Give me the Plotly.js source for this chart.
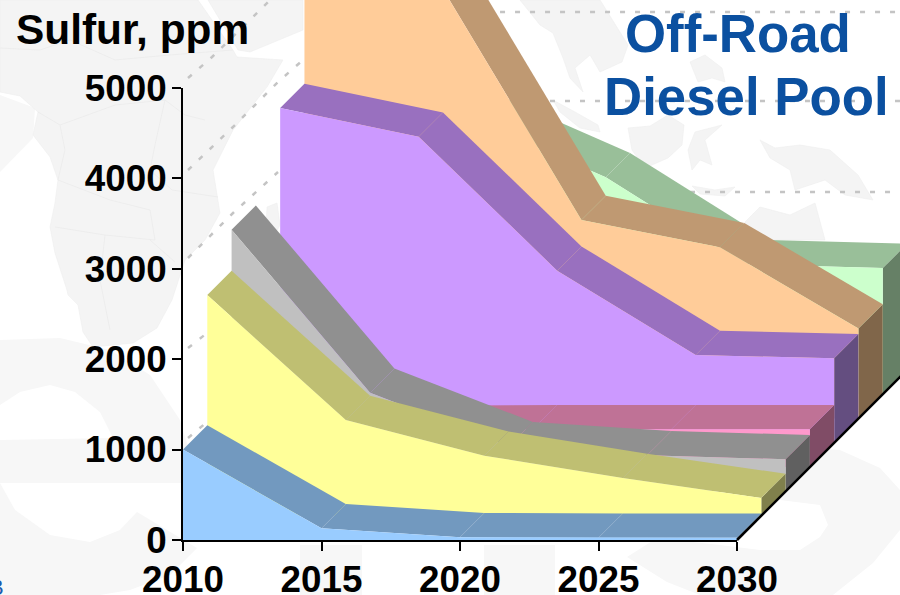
<!DOCTYPE html>
<html>
<head>
<meta charset="utf-8">
<title>Off-Road Diesel Pool</title>
<script src="https://cdn.plot.ly/plotly-3.0.1.min.js"></script>
<style>
  html, body { margin: 0; padding: 0; background: #fff; overflow: hidden; }
  #chart { width: 900px; height: 595px; }
</style>
</head>
<body>
<div id="chart"></div>
<script>
// Sulfur content of off-road diesel by region, drawn as a stacked-in-depth 3D area chart.
const years = [2010, 2015, 2020, 2025, 2030];
const yTicks = [0, 1000, 2000, 3000, 4000, 5000];

// Series, front row to back row (ppm).
const seriesBlue   = [1000, 130, 30, 25, 25];
const seriesYellow = [2440, 1059, 664, 417, 195];
const seriesSilver = [2895, 1092, 499, 400, 355];
const seriesPink   = [400, 410, 418, 418, 418];
const seriesPurple = [3703, 3386, 1904, 971, 935];
const seriesPeach  = [5000, 4750, 2196, 1895, 995];
const seriesGreen  = [3600, 3070, 2400, 1438, 1395];

const faceColors = ['#99ccff', '#ffff99', '#c0c0c0', '#ff99cc', '#cc99ff', '#ffcc99', '#ccffcc'];
const topColors  = ['#7299bf', '#bfbf72', '#909090', '#bf7296', '#9970bf', '#bf9972', '#99bf99'];
const sideColors = ['#4c6680', '#80804c', '#606060', '#804c66', '#644e80', '#80664a', '#668066'];

const rows = [seriesBlue, seriesYellow, seriesSilver, seriesPink, seriesPurple, seriesPeach, seriesGreen];

// Page geometry of the value and year scales.
const W = 900, H = 595;
const axisLeft = 183, axisRight = 737, axisBottom = 540, axisTop = 88;
const pxPerYear = (axisRight - axisLeft) / 20;
const pxPerPpm = (axisBottom - axisTop) / 5000;

// Oblique projection: one row of depth shifts a point right and up, in axis units.
const depthYears = 0.877;
const depthPpm = 268.8;
const px = (year, depth) => year + depth * depthYears;
const py = (value, depth) => value + depth * depthPpm;

function polygon(points, color) {
  return {
    type: 'scatter', mode: 'lines', fill: 'toself', fillcolor: color,
    x: points.map(p => px(p[0], p[2])),
    y: points.map(p => py(p[1], p[2])),
    line: { width: 0, color: color },
    hoverinfo: 'skip', showlegend: false
  };
}

const traces = [];
for (let r = rows.length - 1; r >= 0; r--) {
  const v = rows[r];
  const last = years.length - 1;
  // end wall at the final year
  traces.push(polygon([
    [years[last], v[last], r], [years[last], v[last], r + 1],
    [years[last], 0, r + 1], [years[last], 0, r]
  ], sideColors[r]));
  // sloping roof, one panel per interval
  for (let i = 0; i < last; i++) {
    traces.push(polygon([
      [years[i], v[i], r], [years[i], v[i], r + 1],
      [years[i + 1], v[i + 1], r + 1], [years[i + 1], v[i + 1], r]
    ], topColors[r]));
  }
  // front face
  const face = years.map((yr, i) => [yr, v[i], r]);
  face.push([years[last], 0, r], [years[0], 0, r]);
  traces.push(polygon(face, faceColors[r]));
}
// floor edge running back from the last year
traces.push({
  type: 'scatter', mode: 'lines',
  x: [px(2030, 0), px(2030, 7)], y: [py(0, 0), py(0, 7)],
  line: { color: '#000', width: 2.5 },
  hoverinfo: 'skip', showlegend: false
});
// the labelled axes sit in a second subplot so that they stay above the solid
traces.push({
  type: 'scatter', mode: 'markers', xaxis: 'x2', yaxis: 'y2',
  x: [2010], y: [0], marker: { opacity: 0 }, hoverinfo: 'skip', showlegend: false
});

// Backdrop artwork, in page pixels.
const pathOf = (pts, close) => pts.map((p, i) =>
  (i ? 'L' : 'M') + (p[0] / W).toFixed(4) + ',' + (1 - p[1] / H).toFixed(4)).join(' ') + (close ? ' Z' : '');
const land = pts => ({ type: 'path', xref: 'paper', yref: 'paper', layer: 'below',
  path: pathOf(pts, true), fillcolor: '#f4f4f4', line: { width: 0.6, color: '#eeeeee' } });
const border = pts => ({ type: 'path', xref: 'paper', yref: 'paper', layer: 'below',
  path: pathOf(pts, false), line: { width: 0.8, color: '#ebebeb' } });
const letter = pts => ({ type: 'path', xref: 'paper', yref: 'paper', layer: 'below',
  path: pathOf(pts, true), fillcolor: '#f7f7f7', line: { width: 0 } });
const dashes = pts => ({ type: 'path', xref: 'paper', yref: 'paper', layer: 'below',
  path: pathOf(pts, false), line: { width: 2.5, color: '#c4c4c4', dash: '5px,10px' } });

const letterE = [[0,340],[60,338],[110,350],[150,375],[180,420],[195,470],[195,483],[0,483],[15,510],[50,535],[90,542],[120,530],[137,512],[197,548],[170,575],[130,590],[100,595],[0,595],[0,440],[113,438],[100,412],[75,392],[50,385],[20,392],[0,405]];
const letterS = [[627,557],[657,538],[720,545],[760,550],[800,550],[820,537],[828,525],[820,505],[780,500],[760,470],[780,445],[840,450],[880,468],[900,490],[900,530],[873,563],[833,595],[700,595],[667,582]];

const shapes = [
  letter([[0,95],[35,108],[33,138],[0,172]]),
  letter(letterE),
  letter(letterS),
  letter([[300,545],[362,545],[362,595],[300,595]]),
  letter([[484,545],[555,545],[555,595],[484,595]]),
  // Africa
  land([[0,0],[198,0],[233,50],[237,57],[283,60],[267,87],[233,130],[213,170],[220,213],[205,240],[185,260],[172,300],[157,328],[133,343],[93,347],[83,332],[78,305],[68,295],[67,290],[55,253],[50,227],[55,203],[58,180],[50,157],[33,135],[38,112],[20,96],[0,92]]),
  // a few national borders inside Africa
  border([[0,48],[40,50],[70,40],[115,60],[170,55],[233,50]]),
  border([[38,112],[60,125],[65,150],[58,180]]),
  border([[60,125],[115,105],[165,100],[185,115],[205,120]]),
  border([[165,100],[155,145],[150,170],[172,190],[218,197]]),
  border([[58,180],[110,200],[150,210],[155,240],[105,235],[55,227]]),
  border([[105,235],[100,280],[110,330]]),
  border([[150,240],[175,262]]),
  // Arabia
  land([[208,0],[238,50],[250,52],[303,30],[303,0]]),
  // Madagascar
  land([[267,207],[277,203],[280,225],[272,240],[266,228]]),
  // Indochina and Malaya
  land([[520,0],[540,25],[553,33],[563,58],[570,78],[583,92],[575,68],[590,55],[600,72],[622,62],[628,45],[600,0]]),
  // Sumatra
  land([[553,100],[575,112],[598,125],[600,132],[580,128],[560,112]]),
  // Borneo
  land([[628,128],[650,126],[668,115],[684,125],[682,145],[668,158],[645,168],[632,150]]),
  // Sulawesi
  land([[688,150],[695,132],[722,125],[705,140],[712,165],[700,160],[692,170]]),
  // Philippines
  land([[690,62],[705,55],[722,68],[725,82],[712,78],[698,82]]),
  // Java
  land([[692,186],[715,190],[735,187],[725,196],[700,194]]),
  // New Guinea
  land([[760,140],[775,148],[800,145],[830,150],[858,175],[873,200],[845,195],[825,180],[795,190],[790,170],[770,158]]),
  // Australia
  land([[745,222],[760,207],[790,215],[815,203],[825,240],[745,240]]),
  // dotted boundary lines
  dashes([[188,78],[212,57],[257,13],[270,0]]),
  dashes([[188,170],[235,125],[278,82],[303,60]]),
  dashes([[188,258],[233,213],[278,172]]),
  dashes([[188,348],[207,333]]),
  dashes([[188,438],[207,422]]),
  dashes([[500,12],[900,12]]),
  dashes([[550,101],[900,101]]),
  dashes([[690,192],[900,192]])
];

const sans = '"Liberation Sans", Arial, sans-serif';
const note = (text, x, y, size, color, anchor, weight) => ({
  text: text, xref: 'paper', yref: 'paper', x: x / W, y: 1 - y / H,
  xanchor: anchor, yanchor: 'middle', showarrow: false,
  font: { family: sans, size: size, color: color, weight: weight }
});

const layout = {
  width: W, height: H,
  margin: { l: 0, r: 0, t: 0, b: 0, pad: 0 },
  paper_bgcolor: '#fff', plot_bgcolor: 'rgba(0,0,0,0)',
  showlegend: false,
  // full-page scales carrying the solid: same units per pixel as the labelled axes
  xaxis: {
    domain: [0, 1], anchor: 'y', visible: false, fixedrange: true,
    range: [2010 - axisLeft / pxPerYear, 2010 + (W - axisLeft) / pxPerYear]
  },
  yaxis: {
    domain: [0, 1], anchor: 'x', visible: false, fixedrange: true,
    range: [-(H - axisBottom) / pxPerPpm, axisBottom / pxPerPpm]
  },
  xaxis2: {
    domain: [axisLeft / W, axisRight / W], range: [2010, 2030], anchor: 'y2',
    tickvals: years, ticktext: years.map(String),
    ticks: 'outside', ticklen: 9, tickwidth: 2, tickcolor: '#000',
    showline: true, linecolor: '#000', linewidth: 2,
    showgrid: false, zeroline: false, ticklabelstandoff: -3,
    tickfont: { family: sans, size: 36.8, color: '#000', weight: 700 }
  },
  yaxis2: {
    domain: [(H - axisBottom) / H, (H - axisTop) / H], range: [0, 5000], anchor: 'x2',
    tickvals: yTicks,
    ticks: 'outside', ticklen: 9, tickwidth: 2, tickcolor: '#000',
    showline: true, linecolor: '#000', linewidth: 2,
    showgrid: false, zeroline: false, ticklabelstandoff: -2,
    tickfont: { family: sans, size: 36.8, color: '#000', weight: 700 }
  },
  shapes: shapes,
  annotations: [
    note('Sulfur, ppm', 132, 29, 42.4, '#000', 'center', 700),
    note('Off-Road', 738, 33, 52.8, '#0b50a0', 'center', 700),
    note('Diesel Pool', 746, 97, 52.8, '#0b50a0', 'center', 700),
    note('B', 6, 587, 22, '#1a5cb0', 'right', 400)
  ]
};

Plotly.newPlot('chart', traces, layout, { displayModeBar: false, staticPlot: true });
</script>
</body>
</html>
